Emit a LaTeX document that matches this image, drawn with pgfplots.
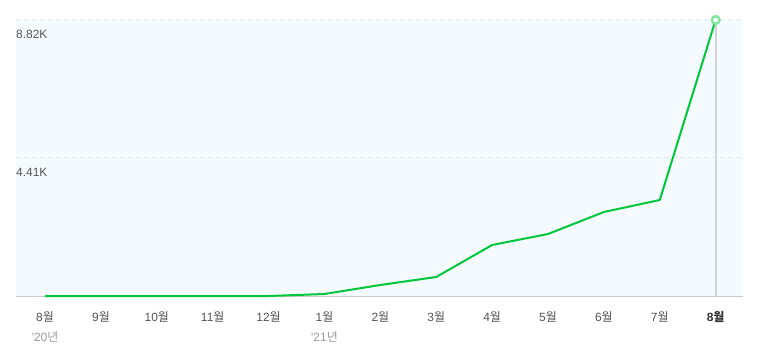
\documentclass[border=0pt]{standalone}
\usepackage{pgfplots}
\pgfplotsset{compat=1.18}
\usepackage{fontspec}
\setmainfont{Liberation Sans}[Ligatures=TeXOff]
\newfontfamily\kr{Noto Sans CJK KR}
\newcommand{\w}{{\kr 월}}
\newcommand{\y}{{\kr 년}}
\definecolor{bgc}{HTML}{F5FAFE}
\definecolor{gridc}{HTML}{E2EBF2}
\definecolor{axisc}{HTML}{CACACA}
\definecolor{vlc}{HTML}{D2D4D6}
\definecolor{linec}{HTML}{00C73C}
\definecolor{markc}{HTML}{86E6A4}
\definecolor{labc}{HTML}{555555}
\definecolor{yearc}{HTML}{999999}
\begin{document}
\begin{tikzpicture}[x=1bp,y=1bp]
\path[use as bounding box] (0,0) rectangle (760,354);
\begin{axis}[
  at={(16bp,58bp)}, anchor=south west,
  scale only axis, width=727bp, height=276bp,
  xmin=-0.52, xmax=12.49, ymin=0, ymax=8820,
  axis line style={draw=none},
  axis background/.style={fill=bgc},
  major tick length=0pt,
  ytick={4410,8820}, yticklabels={},
  ymajorgrids, major grid style={draw=gridc, line width=1bp, dash pattern=on 5bp off 3bp},
  xtick={0,1,2,3,4,5,6,7,8,9,10,11,12},
  xticklabels={8\w,9\w,10\w,11\w,12\w,1\w,2\w,3\w,4\w,5\w,6\w,7\w,{\bfseries\color{black!80}8{\kr\bfseries 월}}},
  xticklabel style={font=\fontsize{12}{14}\selectfont, text=labc, anchor=base, yshift=-25bp, inner sep=0pt},
  clip=false,
]
\draw[axisc, line width=1bp] (rel axis cs:0,0) -- (rel axis cs:1,0);
\draw[vlc, line width=2bp] (axis cs:12,0) -- (axis cs:12,8820);
\addplot[linec, line width=2bp, line join=round, mark=none] coordinates {
(0,0) (1,0) (2,0) (3,0) (4,0) (5,64) (6,352) (7,607) (8,1630) (9,1981) (10,2684) (11,3068) (12,8820)
};
\addplot[only marks, mark=*, mark size=3.8bp, mark options={fill=white, draw=markc, line width=2.6bp}] coordinates {(12,8820)};
\node[anchor=base west, inner sep=0pt, text=labc, font=\fontsize{12}{14}\selectfont] at (rel axis cs:0,1) [yshift=-19bp] {8.82K};
\node[anchor=base west, inner sep=0pt, text=labc, font=\fontsize{12}{14}\selectfont] at (axis cs:-0.52,4410) [yshift=-19bp] {4.41K};
\node[anchor=base, inner sep=0pt, text=yearc, font=\fontsize{12}{14}\selectfont] at (axis cs:0,0) [yshift=-45bp] {'20\y};
\node[anchor=base, inner sep=0pt, text=yearc, font=\fontsize{12}{14}\selectfont] at (axis cs:5,0) [yshift=-45bp] {'21\y};
\end{axis}
\end{tikzpicture}
\end{document}
